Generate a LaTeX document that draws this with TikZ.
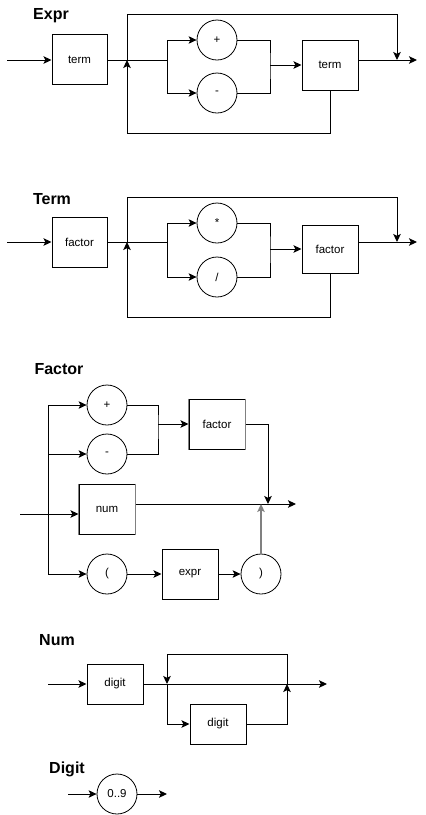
\documentclass[tikz,border=0pt]{standalone}
\usepackage{fontspec}
\setmainfont{Liberation Sans}
\usetikzlibrary{arrows.meta}

\begin{document}
\begin{tikzpicture}[x=1pt,y=-1pt,
  line width=1pt,
  title/.style={font=\fontsize{16}{18}\selectfont\bfseries, inner sep=0pt},
  box/.style={draw, rectangle, minimum width=56pt, minimum height=50pt, inner sep=0pt, font=\fontsize{11.5}{13}\selectfont},
  lowbox/.style={box, minimum height=40pt},
  term/.style={draw, circle, minimum size=40pt, inner sep=0pt, line width=0.8pt, font=\fontsize{11.5}{13}\selectfont},
  arr/.style={-{Stealth[length=8pt,width=7.5pt,inset=1.8pt]}},
  soft/.style={draw=black!50, line width=1.6pt},
]
\useasboundingbox (0,0) rectangle (426,815);

% ---------------- Expr ----------------
\node[title] (exprTitle) at (51,16) {Expr};
\coordinate (eIn) at (7,60);
\node[box, minimum width=55pt] (eTerm1) at (79.5,59.5) {term};
\node[term] (ePlus) at (217,40) {+};
\node[term] (eMinus) at (217,93) {-};
\node[box] (eTerm2) at (330,65) {term};
\coordinate (eJ) at (127,60);
\coordinate (eSplit) at (167,60);
\coordinate (eMerge) at (270,65);
\coordinate (eOutJ) at (397,60);
\coordinate (eOut) at (417,60);

\draw[arr] (eIn) -- (eIn -| eTerm1.west);
\draw (eTerm1.east |- eJ) -- (eSplit);
\draw[arr] (eSplit) |- (ePlus.west);
\draw[arr] (eSplit) |- (eMinus.west);
\draw (ePlus.east) -| (eMerge) |- (eMinus.east);
\draw[arr] (eMerge) -- (eTerm2.west);
\draw[arr] (eTerm2.east |- eOut) -- (eOut);
\draw[arr] (eJ) -- (eJ |- 0,14) -- (eOutJ |- 0,14) -- (eOutJ);
\draw[arr] (eTerm2.south) -- (eTerm2.south |- 0,133) -- (eJ |- 0,133) -- (eJ);

% ---------------- Term ----------------
\node[title] (termTitle) at (52,199) {Term};
\coordinate (tIn) at (7,242);
\node[box, minimum width=55pt] (tFac1) at (79.5,242) {factor};
\node[term] (tStar) at (217,223) {*};
\node[term] (tSlash) at (217,277) {/};
\node[box, minimum height=48pt] (tFac2) at (330,249) {factor};
\coordinate (tJ) at (127,242);
\coordinate (tSplit) at (167,242);
\coordinate (tMerge) at (270,249);
\coordinate (tOutJ) at (397,242);
\coordinate (tOut) at (417,242);

\draw[arr] (tIn) -- (tFac1.west);
\draw (tFac1.east) -- (tSplit);
\draw[arr] (tSplit) |- (tStar.west);
\draw[arr] (tSplit) |- (tSlash.west);
\draw (tStar.east) -| (tMerge) |- (tSlash.east);
\draw[arr] (tMerge) -- (tFac2.west);
\draw[arr] (tFac2.east |- tOut) -- (tOut);
\draw[arr] (tJ) -- (tJ |- 0,197) -- (tOutJ |- 0,197) -- (tOutJ);
\draw[arr] (tFac2.south) -- (tFac2.south |- 0,317) -- (tJ |- 0,317) -- (tJ);

% ---------------- Factor ----------------
\node[title] (factorTitle) at (59,369) {Factor};
\coordinate (fIn) at (20,514);
\coordinate (fRailTop) at (48,405);
\coordinate (fRailMid) at (48,454);
\coordinate (fRailBot) at (48,574);
\node[term] (fPlus) at (107,405) {+};
\node[term] (fMinus) at (107,454) {-};
\node[box] (fFac) at (217,424) {factor};
\node[box] (fNum) at (107,509) {num};
\node[term] (fLp) at (107,574) {(};
\node[box] (fExpr) at (190,574) {expr};
\node[term] (fRp) at (261,574) {)};
\coordinate (fMerge) at (158,424);
\coordinate (fOutJ) at (268,504);
\coordinate (fJoin) at (261,504);
\coordinate (fOut) at (296,504);

\draw[soft] (fFac.north west) -- (fFac.south west) (fFac.north east) -- (fFac.south east);
\draw[soft] (fNum.north west) -- (fNum.south west) (fNum.north east) -- (fNum.south east);

\draw (fRailTop) -- (fRailBot);
\draw[arr] (fIn) -- (fIn -| fNum.west);
\draw[arr] (fRailTop) -- (fPlus.west);
\draw[arr] (fRailMid) -- (fMinus.west);
\draw (fPlus.east) -| (fMerge) |- (fMinus.east);
\draw[arr] (fMerge) -- (fFac.west);
\draw[arr] (fFac.east) -| (fOutJ);
\draw[arr] (fNum.east |- fOut) -- (fOut);
\draw[arr] (fRailBot) -- (fLp.west);
\draw[arr] (fLp.east) -- (fExpr.west);
\draw[arr] (fExpr.east) -- (fRp.west);
\draw[arr, draw=black!50, line width=1.6pt] (fRp.north) -- (fJoin);

% ---------------- Num ----------------
\node[title] (numTitle) at (57,640) {Num};
\coordinate (nIn) at (48,684);
\node[lowbox] (nDig1) at (115,684) {digit};
\node[lowbox] (nDig2) at (218,724) {digit};
\coordinate (nSplit) at (167,684);
\coordinate (nJoin) at (287,684);
\coordinate (nOut) at (327,684);

\draw[arr] (nIn) -- (nDig1.west);
\draw[arr] (nDig1.east) -- (nOut);
\draw[arr] (nJoin) -- (nJoin |- 0,654) -- (nSplit |- 0,654) -- (nSplit);
\draw[arr] (nSplit) |- (nDig2.west);
\draw[arr] (nDig2.east) -| (nJoin);

% ---------------- Digit ----------------
\node[title] (digitTitle) at (67,769) {Digit};
\coordinate (dIn) at (68,794);
\node[term] (dRange) at (117,794) {0..9};
\coordinate (dOut) at (167,794);

\draw[arr] (dIn) -- (dRange.west);
\draw[arr] (dRange.east) -- (dOut);
\end{tikzpicture}
\end{document}
